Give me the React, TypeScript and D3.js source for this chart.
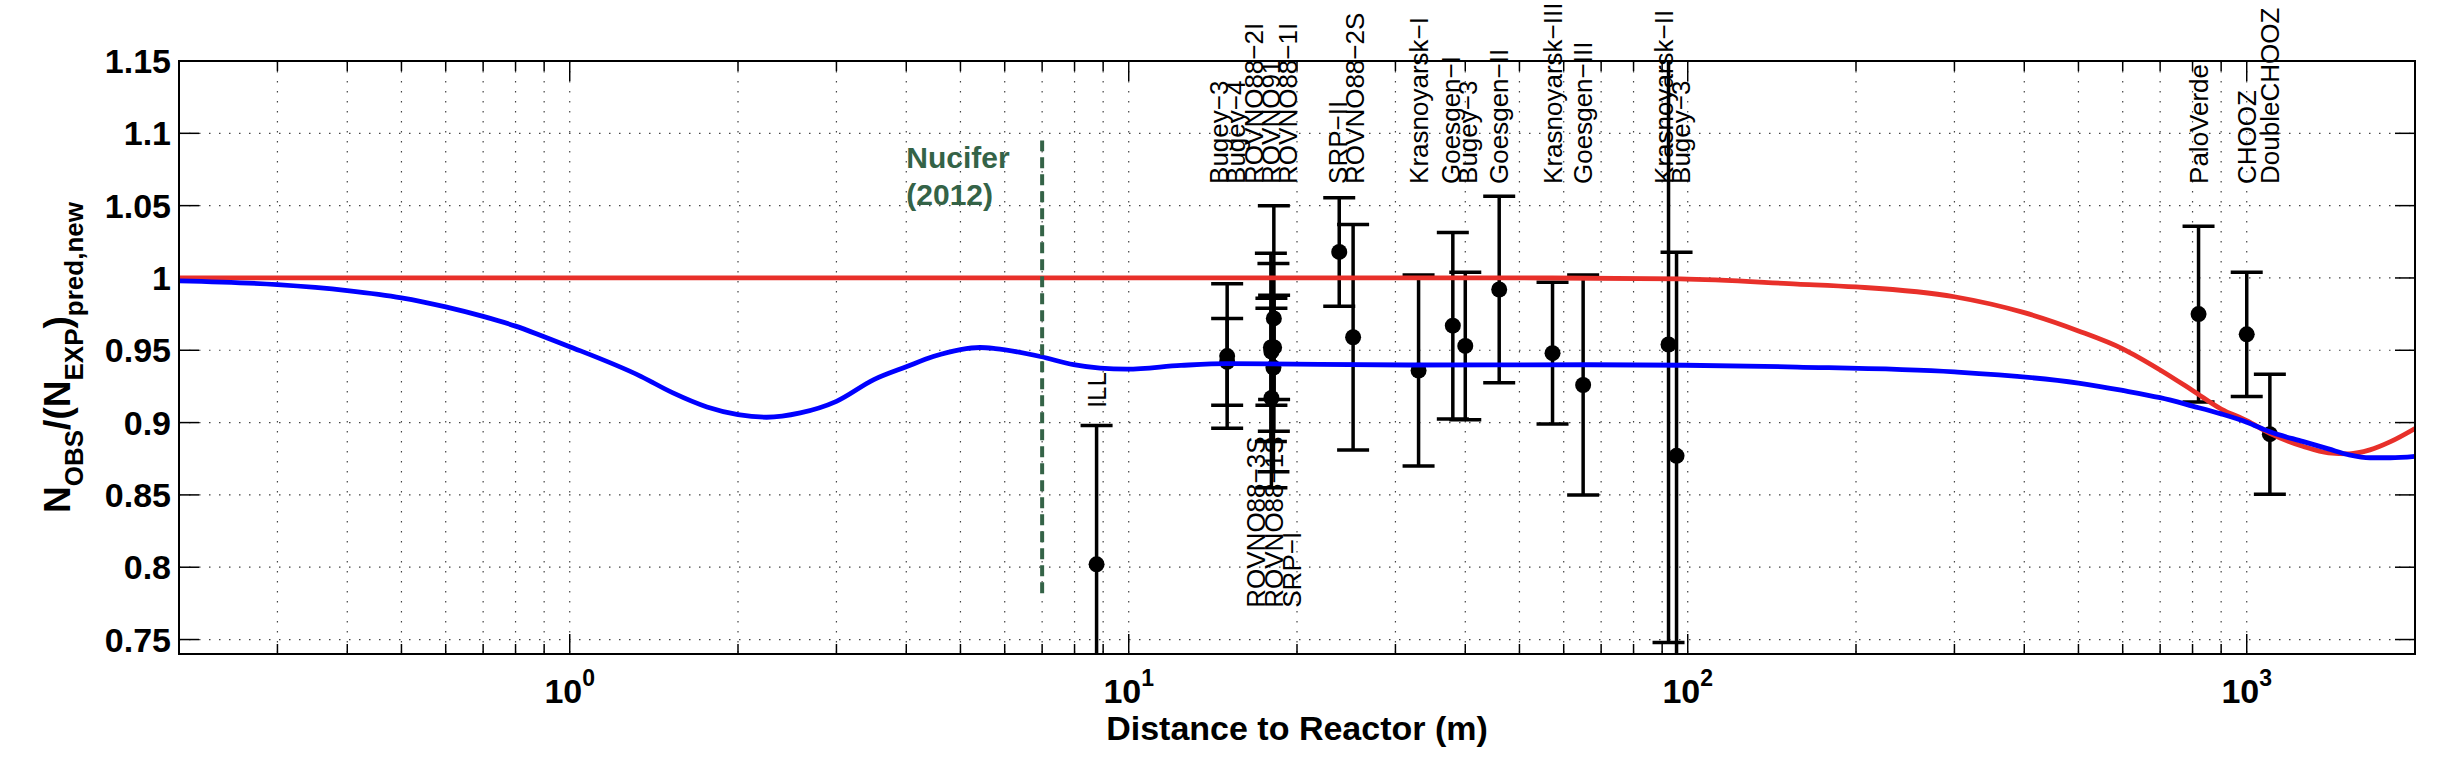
import React from 'react'
import * as d3 from 'd3'

const W = 2452
const H = 766
const margin = { top: 61, right: 37, bottom: 112, left: 179 }
const FONT = '"Liberation Sans", Arial, Helvetica, sans-serif'

// reactor experiments, ratio to new prediction
const expNames = [
  'ILL', 'Bugey−3', 'Bugey−4', 'ROVNO88−2I', 'ROVNO91', 'ROVNO88−1I',
  'ROVNO88−3S', 'ROVNO88−1S', 'SRP−I', 'SRP−II', 'ROVNO88−2S',
  'Krasnoyarsk−I', 'Goesgen−I', 'Bugey−3', 'Goesgen−II', 'Krasnoyarsk−III',
  'Goesgen−III', 'Krasnoyarsk−II', 'Bugey−3', 'PaloVerde', 'CHOOZ', 'DoubleCHOOZ'
]
const expDistance = [
  8.76, 15, 15, 17.96, 18.0, 18.0,
  18.15, 18.18, 18.2, 23.8, 25.2,
  33.0, 38.0, 40.0, 46.0, 57.3,
  65.0, 92.4, 95.5, 820, 1000, 1100
]
const expRatio = [
  0.802, 0.946, 0.942, 0.952, 0.949, 0.917,
  0.938, 0.972, 0.952, 1.018, 0.959,
  0.936, 0.967, 0.953, 0.992, 0.948,
  0.926, 0.954, 0.877, 0.975, 0.961, 0.892
]
const expError = [
  0.096, 0.050, 0.030, 0.065, 0.037, 0.062,
  0.072, 0.078, 0.036, 0.0375, 0.078,
  0.066, 0.0645, 0.051, 0.0645, 0.049,
  0.076, 0.206, 0.1407, 0.0607, 0.043, 0.0415
]
const expLabelSide = [
  'cap', 'top', 'top', 'top', 'top', 'top',
  'bottom', 'bottom', 'bottom', 'top', 'top',
  'top', 'top', 'top', 'top', 'top',
  'top', 'top', 'top', 'top', 'top', 'top'
]

// theta13 only (red) and theta13 + sterile (blue)
const redDist = [0.2, 1, 10, 50, 97, 157, 200, 300, 400, 500, 600, 700, 800, 900, 1000, 1100, 1263, 1400, 1525, 1661, 1808, 2000]
const redRatio = [1.0, 1.0, 1.0, 1.0, 0.9993, 0.9958, 0.9938, 0.987, 0.976, 0.9634, 0.951, 0.9364, 0.9222, 0.9094, 0.9013, 0.8926, 0.8835, 0.8791, 0.8784, 0.8811, 0.8868, 0.8959]

const blueDist = [
  0.2, 0.3, 0.4, 0.5, 0.6, 0.7, 0.8, 0.9, 1.0, 1.34, 1.53, 1.76, 2.0, 2.25, 2.585,
  3.0, 3.5, 4.0, 4.47, 5.0, 5.42, 5.77, 6.95, 7.97, 8.89, 9.93, 12.4, 15, 32, 67,
  157, 300, 500, 600, 700, 800, 900, 1000, 1100, 1263, 1400, 1525, 1661, 1808, 2000
]
const blueRatio = [
  0.998, 0.9954, 0.9913, 0.9863, 0.980, 0.9734, 0.9667, 0.9593, 0.9525, 0.932, 0.9205, 0.9108, 0.9055, 0.9037, 0.9067,
  0.9147, 0.9297, 0.9386, 0.9457, 0.9505, 0.9519, 0.9512, 0.9457, 0.940, 0.9376, 0.9369, 0.9395, 0.9408, 0.9398, 0.940,
  0.9384, 0.935, 0.9273, 0.9222, 0.9172, 0.9114, 0.906, 0.9003, 0.8936, 0.8868, 0.8818, 0.8777, 0.8757, 0.8757, 0.8767
]

const yTicks = [0.75, 0.8, 0.85, 0.9, 0.95, 1.0, 1.05, 1.1, 1.15]
const yTickLabels = ['0.75', '0.8', '0.85', '0.9', '0.95', '1', '1.05', '1.1', '1.15']
const xDecades = [0, 1, 2, 3]

const nuciferDistance = 7
const nuciferRange = [0.782, 1.095]
const nuciferText = ['Nucifer', '(2012)']

const x = d3.scaleLog().domain([0.2, 2000]).range([margin.left, W - margin.right])
const y = d3.scaleLinear().domain([0.74, 1.15]).range([H - margin.bottom, margin.top])

// spread labels that would sit on top of each other
function spreadLabels(xs: number[], gap: number) {
  const out = xs.slice()
  let i = 0
  while (i < xs.length) {
    let j = i
    while (j + 1 < xs.length && xs[j + 1] - xs[j] < gap) j++
    const n = j - i + 1
    const mean = d3.mean(xs.slice(i, j + 1)) as number
    for (let k = i; k <= j; k++) out[k] = mean + (k - i - (n - 1) / 2) * gap
    i = j + 1
  }
  return out
}

const App: React.FC = () => {
  const x0 = margin.left
  const x1 = W - margin.right
  const y0 = margin.top
  const y1 = H - margin.bottom

  const gridX = x.ticks()
  const majorX = xDecades.map(d => 10 ** d)

  const idx = expNames.map((_, i) => i)
  const topIdx = idx.filter(i => expLabelSide[i] === 'top')
  const botIdx = idx.filter(i => expLabelSide[i] === 'bottom')
  const capIdx = idx.filter(i => expLabelSide[i] === 'cap')
  const topX = spreadLabels(topIdx.map(i => x(expDistance[i])), 17)
  const botX = spreadLabels(botIdx.map(i => x(expDistance[i])), 18)

  const line = d3.line<number>()
    .curve(d3.curveMonotoneX)

  const redPath = line(redDist.map((d, i) => [x(d), y(redRatio[i])]) as any)
  const bluePath = line(blueDist.map((d, i) => [x(d), y(blueRatio[i])]) as any)

  const capW = 16

  return (
    <svg width={W} height={H} style={{ position: 'absolute', left: 0, top: 0, background: '#fff' }} fontFamily={FONT}>
      <defs>
        <clipPath id="plotClip">
          <rect x={x0} y={y0} width={x1 - x0} height={y1 - y0} />
        </clipPath>
      </defs>
      <rect x={0} y={0} width={W} height={H} fill="#fff" />

      {/* grid */}
      <g stroke="#444" strokeWidth={1.2} strokeDasharray="1.5 8.5">
        {gridX.map((t, i) => (
          <line key={'gx' + i} x1={x(t)} x2={x(t)} y1={y0} y2={y1} />
        ))}
        {yTicks.map((t, i) => (
          <line key={'gy' + i} x1={x0} x2={x1} y1={y(t)} y2={y(t)} />
        ))}
      </g>

      {/* ticks */}
      <g stroke="#000" strokeWidth={1.5}>
        {gridX.map((t, i) => {
          const len = majorX.includes(t) ? 20 : 10
          return (
            <g key={'tx' + i}>
              <line x1={x(t)} x2={x(t)} y1={y1} y2={y1 - len} />
              <line x1={x(t)} x2={x(t)} y1={y0} y2={y0 + len} />
            </g>
          )
        })}
        {yTicks.map((t, i) => (
          <g key={'ty' + i}>
            <line x1={x0} x2={x0 + 20} y1={y(t)} y2={y(t)} />
            <line x1={x1} x2={x1 - 20} y1={y(t)} y2={y(t)} />
          </g>
        ))}
      </g>

      {/* error bars and points */}
      <g clipPath="url(#plotClip)" stroke="#000" strokeWidth={3.5}>
        {idx.map(i => {
          const cx = x(expDistance[i])
          const hi = y(expRatio[i] + expError[i])
          const lo = y(expRatio[i] - expError[i])
          return (
            <g key={'e' + i}>
              <line x1={cx} x2={cx} y1={hi} y2={lo} />
              <line x1={cx - capW} x2={cx + capW} y1={hi} y2={hi} />
              <line x1={cx - capW} x2={cx + capW} y1={lo} y2={lo} />
            </g>
          )
        })}
        {idx.map(i => (
          <circle key={'p' + i} cx={x(expDistance[i])} cy={y(expRatio[i])} r={8} fill="#000" stroke="none" />
        ))}
      </g>

      {/* model curves */}
      <g clipPath="url(#plotClip)" fill="none" strokeWidth={4.8} strokeLinejoin="round">
        <path d={redPath || ''} stroke="#e8302a" />
        <path d={bluePath || ''} stroke="#0000ff" />
      </g>

      {/* Nucifer */}
      <line
        x1={x(nuciferDistance)} x2={x(nuciferDistance)}
        y1={y(nuciferRange[0])} y2={y(nuciferRange[1])}
        stroke="#346347" strokeWidth={4} strokeDasharray="11 6"
      />
      <text x={x(4)} y={y(1.076)} fontSize={30} fontWeight="bold" fill="#346347">
        <tspan x={x(4)}>{nuciferText[0]}</tspan>
        <tspan x={x(4)} dy={37}>{nuciferText[1]}</tspan>
      </text>

      {/* experiment labels */}
      <g fontSize={26} fill="#000">
        {topIdx.map((i, k) => (
          <text key={'lt' + i} transform={`translate(${topX[k]},${y(1.065)}) rotate(-90)`} dominantBaseline="central">
            {expNames[i]}
          </text>
        ))}
        {botIdx.map((i, k) => (
          <text key={'lb' + i} transform={`translate(${botX[k]},${y(0.772)}) rotate(-90)`} dominantBaseline="central">
            {expNames[i]}
          </text>
        ))}
        {capIdx.map(i => (
          <text key={'lc' + i} transform={`translate(${x(expDistance[i])},${y(expRatio[i] + expError[i] + 0.012)}) rotate(-90)`} dominantBaseline="central">
            {expNames[i]}
          </text>
        ))}
      </g>

      {/* frame */}
      <rect x={x0} y={y0} width={x1 - x0} height={y1 - y0} fill="none" stroke="#000" strokeWidth={2} />

      {/* tick labels */}
      <g fontWeight="bold" fill="#000">
        {yTicks.map((t, i) => (
          <text key={'yl' + i} x={x0 - 8} y={y(t)} textAnchor="end" dominantBaseline="central" fontSize={34}>
            {yTickLabels[i]}
          </text>
        ))}
        {xDecades.map(d => (
          <text key={'xl' + d} x={x(10 ** d)} y={703} textAnchor="middle" fontSize={34}>
            10<tspan fontSize={23} dy={-17}>{d}</tspan>
          </text>
        ))}
        <text x={(x0 + x1) / 2} y={740} textAnchor="middle" fontSize={34}>Distance to Reactor (m)</text>
        <text transform={`translate(70,${(y0 + y1) / 2}) rotate(-90)`} textAnchor="middle" fontSize={37}>
          N<tspan fontSize={26} dy={13}>OBS</tspan>
          <tspan dy={-13}>/(N</tspan>
          <tspan fontSize={26} dy={13}>EXP</tspan>
          <tspan dy={-13}>)</tspan>
          <tspan fontSize={26} dy={13}>pred,new</tspan>
        </text>
      </g>
    </svg>
  )
}

export default App
